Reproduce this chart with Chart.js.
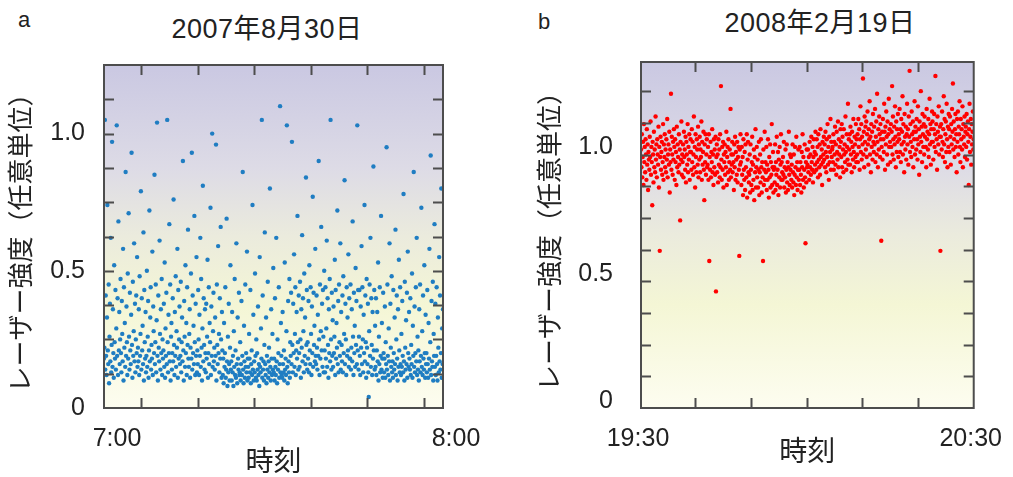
<!DOCTYPE html>
<html>
<head>
<meta charset="utf-8">
<script src="https://cdn.jsdelivr.net/npm/chart.js@4"></script>
<style>
  body { margin: 0; background: #fff; width: 1013px; height: 477px; position: relative; overflow: hidden;
         font-family: "Liberation Sans", "Noto Sans CJK JP", sans-serif; color: #222; }
  .panel { position: absolute; top: 0; height: 477px; }
  .tag { position: absolute; font-size: 22px; line-height: 22px; }
  .ttl { position: absolute; width: 300px; text-align: center; font-size: 27px; line-height: 27px; letter-spacing: 0.5px; }
</style>
</head>
<body>
<div class="tag" style="left:18px; top:9px;">a</div>
<div class="tag" style="left:538px; top:11px;">b</div>
<div class="ttl" style="left:117px; top:16px;">2007年8月30日</div>
<div class="ttl" style="left:670px; top:10px;">2008年2月19日</div>
<div class="panel" style="left:0; width:506px;"><canvas id="chartA" width="506" height="477"></canvas></div>
<div class="panel" style="left:506px; width:507px;"><canvas id="chartB" width="507" height="477"></canvas></div>
<script>
// レーザー強度 (任意単位), panel a: 2007-08-30 7:00-8:00
const intensityA = [
  .18,.22,1.05,.14,.41,.19,.12,.33,.74,.21,.16,.45,.09,.26,.38,.17,.62,.13,.23,.97,
  .15,.36,.2,.11,.52,.24,.18,.43,.14,.29,1.03,.19,.4,.12,.68,.21,.35,.16,.25,.47,
  .2,.13,.39,.27,.17,.58,.1,.44,.22,.31,.15,.86,.19,.37,.24,.12,.49,.18,.71,.26,
  .14,.42,.21,.16,.34,.93,.23,.11,.46,.19,.28,.6,.17,.38,.13,.25,.41,.2,.55,.15,
  .22,.17,.36,.12,.48,.19,.27,.79,.14,.4,.21,.3,.16,.64,.1,.43,.24,.18,.35,.13,
  .19,.5,.15,.26,.39,.11,.21,.72,.17,.33,.44,.14,.23,.18,.57,.12,.37,.28,.2,.85,
  .16,.24,.45,.13,.32,1.04,.19,.1,.41,.22,.17,.61,.27,.14,.36,.2,.47,.12,.25,.18,
  .21,.38,.15,.53,.11,.29,.19,.42,.16,1.05,.24,.13,.34,.2,.67,.17,.45,.1,.26,.31,
  .14,.2,.4,.17,.76,.23,.12,.35,.19,.48,.15,.28,.22,.58,.11,.43,.18,.25,.37,.16,
  .19,.46,.13,.24,.33,.17,.9,.21,.1,.39,.26,.15,.52,.2,.31,.12,.44,.23,.65,.18,
  .15,.27,.36,.11,.22,.49,.18,.93,.14,.41,.2,.3,.16,.7,.24,.12,.38,.19,.55,.13,
  .21,.16,.43,.25,.12,.34,.19,.62,.15,.47,.22,.1,.29,.81,.17,.4,.23,.14,.36,.2,
  .13,.38,.18,.26,.54,.11,.2,.44,.16,.31,.24,.73,.12,.37,.19,1.0,.15,.28,.42,.17,
  .22,.14,.33,.19,.96,.1,.45,.23,.16,.59,.2,.27,.13,.4,.18,.66,.25,.11,.35,.21,
  .12,.18,.09,.31,.15,.2,.44,.11,.14,.69,.17,.08,.26,.13,.38,.16,.1,.22,.52,.14,
  .17,.1,.35,.13,.19,.08,.28,.15,.47,.12,.21,.11,.6,.16,.09,.33,.18,.14,.42,.12,
  .13,.24,.1,.16,.39,.12,.19,.86,.14,.09,.3,.17,.11,.45,.15,.2,.13,.57,.1,.18,
  .15,.11,.27,.18,.13,.43,.09,.16,.21,.12,.74,.14,.34,.1,.17,.13,.49,.19,.11,.25,
  .1,.2,.14,.37,.12,.16,.08,.55,.15,.13,.29,.18,1.05,.11,.41,.14,.17,.1,.23,.64,
  .16,.12,.33,.09,.19,.14,.46,.11,.17,.22,.13,.8,.15,.1,.36,.18,.12,.27,.14,.51,
  .13,.18,.1,.4,.15,.12,.62,.17,.09,.25,.14,.2,.44,.11,.16,1.1,.13,.31,.19,.12,
  .11,.35,.16,.13,.21,.1,.53,.14,.18,.12,.28,1.03,.15,.09,.39,.17,.13,.47,.11,.24,
  .19,.42,.16,.97,.23,.13,.38,.2,.56,.15,.27,.44,.12,.21,.35,.18,.7,.24,.14,.41,
  .2,.15,.46,.25,.11,.36,.22,.63,.17,.4,.28,.13,.49,.19,.33,.16,.84,.23,.43,.14,
  .24,.18,.39,.13,.52,.21,.16,.44,.27,.12,.37,.2,.77,.15,.42,.23,.3,.17,.58,.19,
  .16,.41,.22,.14,.34,.19,.9,.25,.12,.45,.18,.28,.66,.21,.38,.15,.43,.26,.13,.5,
  .21,.13,.44,.18,.29,.61,.15,.4,.23,.11,.36,.2,.47,.17,1.05,.25,.14,.42,.19,.32,
  .15,.37,.2,.26,.54,.12,.43,.18,.31,.22,.72,.16,.39,.13,.45,.24,.19,.6,.14,.35,
  .23,.17,.41,.13,.48,.2,.27,.83,.16,.38,.25,.12,.44,.19,.33,.21,.56,.15,.4,.18,
  .18,.45,.14,.22,.36,.17,.68,.26,.12,.42,.2,.3,.15,.51,.23,.39,.16,1.03,.21,.43,
  .14,.26,.43,.19,.12,.37,.22,.59,.16,.44,.25,.13,.34,.2,.74,.17,.41,.24,.11,.47,
  .22,.16,.38,.13,.04,.28,.45,.19,.62,.15,.4,.23,.12,.35,.18,.88,.21,.43,.14,.3,
  .15,.4,.12,.21,.35,.17,.53,.1,.26,.16,.44,.13,.19,.7,.14,.31,.18,.11,.42,.2,
  .13,.18,.37,.11,.24,.16,.95,.14,.45,.19,.12,.29,.17,.6,.1,.38,.22,.15,.48,.13,
  .17,.11,.43,.2,.14,.33,.16,.65,.12,.25,.41,.18,.1,.36,.15,.54,.21,.13,.44,.16,
  .12,.27,.15,.39,.19,.13,.78,.17,.1,.46,.22,.14,.32,.16,.42,.11,.57,.2,.15,.35,
  .18,.14,.4,.12,.23,.16,.49,.11,.3,.19,.86,.15,.37,.13,.2,.44,.17,.62,.12,.26,
  .14,.21,.1,.36,.17,.45,.13,.19,.73,.15,.28,.12,.41,.18,.14,.52,.2,.11,.34,.16,
  .2,.13,.43,.16,.11,.31,.18,.58,.14,.24,.92,.12,.39,.17,.15,.46,.1,.27,.19,.67,
  .15,.38,.12,.19,.44,.16,.1,.33,.22,.13,.55,.17,.41,.14,.2,.8,.11,.29,.16,.36
];

// panel b: 2008-02-19 19:30-20:30
const intensityB = [
  1.02,.95,1.08,.91,.99,1.05,.88,1.12,.97,1.03,.93,1.06,1.0,.9,1.1,.96,1.04,.86,1.01,.98,
  .94,1.07,.99,1.13,.92,1.03,.97,.8,1.05,1.0,.89,1.09,.95,1.02,.93,1.15,.98,1.04,.91,1.06,
  1.0,.96,1.11,.87,1.03,.62,.99,1.07,.94,1.01,1.05,.92,.97,1.12,.9,1.04,.99,1.08,.95,1.02,
  .93,1.06,.98,1.14,.91,1.0,1.04,.96,1.09,.85,1.02,.97,1.24,.94,1.07,1.0,.92,1.05,.98,1.1,
  1.03,.9,1.06,.97,1.01,.88,1.11,.95,1.04,.99,.93,1.08,.96,1.02,.74,1.05,.98,1.13,.92,1.0,
  .97,1.04,.91,1.09,.99,1.02,.94,1.07,.89,1.05,1.0,.96,1.12,.93,1.03,.98,1.08,.9,1.01,1.06,
  1.01,.94,1.1,.97,1.05,.92,1.0,1.15,.95,1.03,.87,1.08,.99,.93,1.06,1.02,.96,1.11,.91,1.04,
  .98,1.07,.93,1.02,.99,1.13,.9,1.05,.96,1.01,1.09,.94,.82,1.04,.97,1.08,.92,1.0,1.06,.95,
  .96,1.03,.9,1.08,.58,.99,.94,1.05,.91,1.01,.97,1.1,.93,1.0,.88,1.06,.95,1.02,.92,1.07,
  .46,.99,1.04,.93,1.0,.89,1.06,.96,1.02,.91,1.08,.95,1.27,.98,.9,1.03,.94,1.05,.87,1.0,
  .97,1.04,.92,1.01,.95,1.09,.88,.99,1.03,.93,1.06,.9,.97,1.02,.94,1.18,.91,1.0,.96,1.05,
  .93,1.0,.97,.86,1.04,.95,1.07,.9,1.01,.98,.92,1.05,.89,.99,1.03,.94,.6,1.02,.96,1.08,
  .97,.88,1.03,.92,.99,.84,1.06,.94,.9,1.01,.86,1.04,.95,.91,1.08,.83,.98,1.05,.93,.89,
  .92,1.0,.85,1.04,.94,.88,.97,1.07,.86,.96,.9,1.02,.82,.99,.93,1.1,.87,.95,1.03,.91,
  .98,.87,.94,1.05,.84,.93,1.0,.89,1.06,.95,.85,.97,.91,.58,1.02,.88,.94,1.09,.9,.97,
  .93,1.03,.86,.96,.9,1.06,.94,.83,.99,.91,1.04,.87,.97,.92,1.12,.88,.95,1.01,.85,.94,
  .95,.89,1.04,.86,.97,.92,1.07,.88,.94,1.01,.84,.98,.91,1.03,.87,.96,1.08,.9,.97,.93,
  .9,.99,.92,1.05,.87,.95,.91,1.02,.85,.94,1.04,.89,.97,.86,.95,1.09,.92,.88,1.0,.94,
  .99,.9,.96,.87,1.04,.93,.89,1.0,.84,.92,1.03,.95,.88,1.07,.91,.97,.86,.94,1.02,.9,
  .94,1.03,.88,.97,.92,.85,1.01,.95,1.08,.9,.99,.87,.94,1.04,.91,.65,.97,.89,1.02,.95,
  .96,1.02,.93,.99,.9,1.05,.95,1.0,.92,1.07,.97,.94,1.03,.89,.99,1.06,.93,1.01,.96,1.09,
  1.0,.94,1.06,.97,1.03,.91,1.08,.98,.95,1.04,.92,1.1,.99,.96,1.02,.88,1.05,.97,1.0,1.07,
  .98,1.04,.95,1.09,1.01,.93,1.06,.99,1.12,.96,1.03,.9,1.07,.97,1.01,1.14,.94,1.05,.99,1.02,
  1.03,.97,1.08,.94,1.05,1.0,1.11,.96,1.04,.92,1.09,1.01,.98,1.13,.95,1.06,1.0,1.03,.91,1.1,
  1.05,.99,1.12,.95,1.07,1.02,.93,1.1,1.0,1.04,.97,1.15,1.01,.94,1.08,1.03,.98,1.2,.96,1.06,
  1.02,1.08,.96,1.11,1.0,1.05,.93,1.09,1.03,.98,1.14,1.01,.95,1.07,1.04,.99,1.12,.97,1.06,1.0,
  1.08,.97,1.14,1.03,1.1,.94,1.06,1.19,1.01,1.12,.98,1.07,1.04,1.3,1.0,1.09,.95,1.15,1.05,1.11,
  1.02,1.13,.99,1.08,1.17,1.04,.96,1.1,1.06,1.21,1.0,1.07,.93,1.12,1.03,1.09,.98,1.16,1.05,1.01,
  1.11,1.04,1.18,.97,1.07,1.13,1.0,1.24,1.05,.95,1.1,1.02,1.15,1.08,.99,1.12,1.06,.66,1.03,1.09,
  .98,1.14,1.06,1.01,1.2,1.09,.94,1.11,1.04,1.17,1.07,1.0,1.13,.96,1.08,1.22,1.03,1.1,1.05,.97,
  1.12,1.03,1.09,1.27,1.0,1.15,1.06,.98,1.11,1.04,1.19,1.07,.95,1.13,1.01,1.1,1.05,1.16,.99,1.08,
  1.06,1.18,1.01,1.1,.97,1.14,1.04,1.09,1.23,1.0,1.12,1.05,.93,1.16,1.07,1.02,1.11,.98,1.08,1.2,
  1.04,1.1,.96,1.15,1.07,1.33,1.01,1.12,1.05,.99,1.17,1.08,1.03,1.13,.95,1.09,1.06,1.21,1.0,1.11,
  1.09,1.02,1.14,1.06,.98,1.19,1.04,1.1,.92,1.13,1.07,1.01,1.25,1.05,1.11,.97,1.16,1.08,1.03,1.12,
  1.0,1.15,1.07,1.11,1.03,.95,1.18,1.06,1.09,1.02,1.14,.99,1.08,1.22,1.04,1.12,.96,1.1,1.05,1.17,
  1.13,1.05,.98,1.1,1.16,1.03,1.08,1.31,1.01,1.12,1.06,.94,1.15,1.09,1.04,1.19,1.0,1.07,1.11,.62,
  1.07,1.12,1.02,1.17,1.05,.99,1.1,1.23,1.04,1.14,.97,1.08,1.13,1.01,1.2,1.06,.95,1.11,1.03,1.16,
  1.1,1.01,1.15,1.07,.96,1.12,1.04,1.18,1.09,1.28,1.02,1.13,1.06,.99,1.1,1.16,1.03,1.08,.93,1.14,
  1.05,1.17,1.0,1.11,1.08,1.21,1.03,.97,1.14,1.06,1.1,1.02,1.19,.95,1.12,1.07,1.04,1.15,.99,1.09,
  1.11,1.03,1.16,.98,1.08,1.13,1.05,.88,1.1,1.2,1.01,1.07,1.14,.96,1.12,1.04,1.09,1.17,1.02,1.06
];

// axis labels (minutes after the hour shown on the left edge)
const xLabelValues = [0, 60];
const xLabelsA = ["7:00", "8:00"];
const xLabelsB = ["19:30", "20:30"];
const xMinorA = [6.6, 16.6, 26.6, 36.6, 46.6, 56.6];
const xMinorB = [9.7, 19.8, 29.9, 39.9, 50];
const yLabelValues = [0, 0.5, 1.0];
const yLabels = ["0", "0.5", "1.0"];
const yMinor = [0.125, 0.25, 0.375, 0.5, 0.625, 0.75, 0.875, 1.0, 1.125, 1.25];

const yTitle = "レーザー強度（任意単位）";
const xTitle = "時刻";
const FONT = '"Liberation Sans", "Noto Sans CJK JP", sans-serif';

// samples are evenly spaced over the hour
function toPoints(values){
  return values.map((v, i) => ({ x: i * 60 / (values.length - 1), y: v }));
}

const bgGradient = {
  id: "bgGradient",
  beforeDatasetsDraw(chart){
    const { ctx, chartArea: a } = chart;
    const g = ctx.createLinearGradient(0, a.top, 0, a.bottom);
    g.addColorStop(0, "#cac8e2");
    g.addColorStop(0.3, "#dddbe6");
    g.addColorStop(0.5, "#ebebdd");
    g.addColorStop(0.7, "#f4f6d5");
    g.addColorStop(1, "#fdfdf0");
    ctx.save();
    ctx.fillStyle = g;
    ctx.fillRect(a.left, a.top, a.right - a.left, a.bottom - a.top);
    ctx.restore();
  }
};

const frameTicks = {
  id: "frameTicks",
  afterDatasetsDraw(chart, args, opts){
    const { ctx, chartArea: a, scales: { x, y } } = chart;
    ctx.save();
    ctx.strokeStyle = "#4d4d4d";
    ctx.lineWidth = 2;
    ctx.beginPath();
    opts.xTicks.forEach(v => {
      const px = Math.round(x.getPixelForValue(v)) + 0.5;
      ctx.moveTo(px, a.bottom); ctx.lineTo(px, a.bottom - 10);
      ctx.moveTo(px, a.top); ctx.lineTo(px, a.top + 10);
    });
    opts.yTicks.forEach(v => {
      const py = Math.round(y.getPixelForValue(v)) + 0.5;
      if (py < a.top + 3) return;
      ctx.moveTo(a.left, py); ctx.lineTo(a.left + 10, py);
      ctx.moveTo(a.right, py); ctx.lineTo(a.right - 10, py);
    });
    ctx.stroke();
    ctx.strokeRect(a.left, a.top, a.right - a.left, a.bottom - a.top);
    ctx.restore();
  }
};

function makeChart(id, cfg){
  return new Chart(document.getElementById(id), {
    type: "scatter",
    data: { datasets: [{
      data: toPoints(cfg.values),
      pointRadius: 2.2,
      pointHoverRadius: 2.2,
      borderWidth: 0,
      backgroundColor: cfg.color
    }] },
    options: {
      responsive: false,
      animation: false,
      events: [],
      layout: { padding: { top: cfg.top, right: cfg.right, bottom: 0, left: 0 } },
      plugins: {
        legend: { display: false },
        tooltip: { enabled: false },
        frameTicks: { xTicks: cfg.xMinor, yTicks: yMinor }
      },
      scales: {
        x: {
          type: "linear", min: 0, max: 60,
          grid: { display: false }, border: { display: false },
          afterFit: s => { s.height = 69; },
          afterBuildTicks: s => { s.ticks = xLabelValues.map(v => ({ value: v })); },
          ticks: {
            autoSkip: false, maxRotation: 0, padding: 8, labelOffset: cfg.xLabelOffset,
            color: "#222", font: { family: FONT, size: 25 },
            callback: (v, i) => cfg.xLabels[i]
          },
          title: {
            display: true, text: xTitle, color: "#222",
            font: { family: FONT, size: 28, lineHeight: 1 },
            padding: { top: 0, bottom: cfg.xTitlePad }
          }
        },
        y: {
          min: 0, max: cfg.yMax,
          grid: { display: false }, border: { display: false },
          afterFit: s => { s.width = cfg.left; },
          afterBuildTicks: s => { s.ticks = yLabelValues.map(v => ({ value: v })); },
          ticks: {
            padding: cfg.yPad, labelOffset: cfg.yLabelOffset,
            color: "#222", font: { family: FONT, size: 25 },
            callback: (v, i) => yLabels[i]
          },
          title: {
            display: true, text: yTitle, color: "#222",
            font: { family: FONT, size: 26, lineHeight: 1.2 },
            padding: { top: cfg.yTitlePad, bottom: 0 }
          }
        }
      }
    },
    plugins: [bgGradient, frameTicks]
  });
}

makeChart("chartA", {
  values: intensityA, color: "#1f7dc2",
  top: 65, right: 63, left: 104, yMax: 1.25,
  xMinor: xMinorA, xLabels: xLabelsA, xLabelOffset: 13,
  yPad: 11, yLabelOffset: 0, xTitlePad: 0, yTitlePad: 7
});

makeChart("chartB", {
  values: intensityB, color: "#ff0000",
  top: 62, right: 35, left: 135, yMax: 1.365,
  xMinor: xMinorB, xLabels: xLabelsB, xLabelOffset: -3,
  yPad: 20, yLabelOffset: -7, xTitlePad: 10, yTitlePad: 30
});
</script>
</body>
</html>
